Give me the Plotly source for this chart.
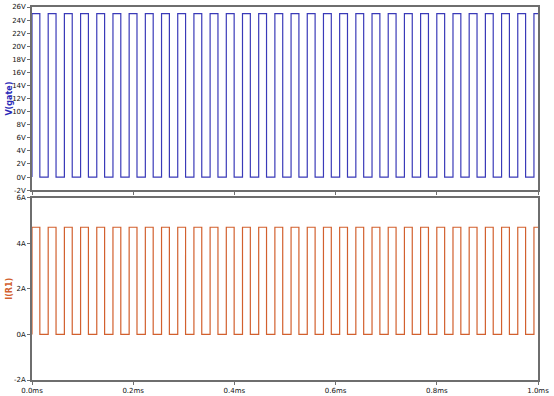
import plotly.graph_objects as go
from plotly.subplots import make_subplots

# Edge times (ms)
rise_times_ms = [0.000, 0.032, 0.064, 0.096, 0.128, 0.160, 0.192, 0.224, 0.256, 0.288,
                 0.320, 0.352, 0.384, 0.416, 0.448, 0.480, 0.512, 0.544, 0.576, 0.608,
                 0.640, 0.672, 0.704, 0.736, 0.768, 0.800, 0.832, 0.864, 0.896, 0.928,
                 0.960, 0.992]
fall_times_ms = [0.0155, 0.0475, 0.0795, 0.1115, 0.1435, 0.1755, 0.2075, 0.2395, 0.2715, 0.3035,
                 0.3355, 0.3675, 0.3995, 0.4315, 0.4635, 0.4955, 0.5275, 0.5595, 0.5915, 0.6235,
                 0.6555, 0.6875, 0.7195, 0.7515, 0.7835, 0.8155, 0.8475, 0.8795, 0.9115, 0.9435,
                 0.9755, 1.000]
gate_high_v = 25.0
gate_low_v = 0.0
current_high_a = 4.7
current_low_a = 0.0

x_ticks_ms = [0.0, 0.2, 0.4, 0.6, 0.8, 1.0]
x_tick_labels = ["0.0ms", "0.2ms", "0.4ms", "0.6ms", "0.8ms", "1.0ms"]
v_ticks = [-2, 0, 2, 4, 6, 8, 10, 12, 14, 16, 18, 20, 22, 24, 26]
v_tick_labels = [f"{v}V" for v in v_ticks]
i_ticks = [-2, 0, 2, 4, 6]
i_tick_labels = [f"{v}A" for v in i_ticks]


def square(high, low):
    xs, ys = [], []
    for r, f in zip(rise_times_ms, fall_times_ms):
        xs += [r, r, f, f]
        ys += [low, high, high, low if f < 1.0 else high]
    return xs, ys


vx, vy = square(gate_high_v, gate_low_v)
ix, iy = square(current_high_a, current_low_a)

fig = make_subplots(rows=2, cols=1, shared_xaxes=False, vertical_spacing=0.02)
fig.add_trace(go.Scatter(x=vx, y=vy, mode="lines", line=dict(color="#3a3ab8", width=1.2),
                         showlegend=False), row=1, col=1)
fig.add_trace(go.Scatter(x=ix, y=iy, mode="lines", line=dict(color="#d2602e", width=1.2),
                         showlegend=False), row=2, col=1)

font = dict(family="DejaVu Sans, Tahoma, sans-serif", size=7, color="#111111")
axis_common = dict(showgrid=False, zeroline=False, showline=True, linecolor="#6e6e6e",
                   linewidth=1.5, mirror=True, ticks="outside", ticklen=3,
                   tickcolor="#6e6e6e", tickfont=font, automargin=False)

fig.update_xaxes(range=[0, 1.0], tickvals=x_ticks_ms, ticktext=x_tick_labels, **axis_common)
fig.update_xaxes(showticklabels=False, row=1, col=1)
fig.update_yaxes(range=[-2, 26], tickvals=v_ticks, ticktext=v_tick_labels, row=1, col=1, **axis_common)
fig.update_yaxes(range=[-2, 6], tickvals=i_ticks, ticktext=i_tick_labels, row=2, col=1, **axis_common)

fig.update_layout(
    width=554, height=396,
    margin=dict(l=32, r=16, t=7, b=16, autoexpand=False),
    paper_bgcolor="white", plot_bgcolor="white",
    xaxis=dict(domain=[0, 1]), xaxis2=dict(domain=[0, 1]),
    yaxis=dict(domain=[0.509, 1.0]),
    yaxis2=dict(domain=[0.0, 0.489]),
    annotations=[
        dict(text="<b>V(gate)</b>", xref="paper", yref="paper", x=0, y=0.7545, xshift=-22,
             textangle=-90, showarrow=False, xanchor="center", yanchor="middle",
             font=dict(family="DejaVu Sans, Tahoma, sans-serif", size=8, color="#2a2ab8")),
        dict(text="<b>I(R1)</b>", xref="paper", yref="paper", x=0, y=0.2445, xshift=-22,
             textangle=-90, showarrow=False, xanchor="center", yanchor="middle",
             font=dict(family="DejaVu Sans, Tahoma, sans-serif", size=8, color="#d2602e")),
    ],
)

fig.write_html("out.html", config={"displayModeBar": False},
               post_script="document.body.style.margin='0';")
